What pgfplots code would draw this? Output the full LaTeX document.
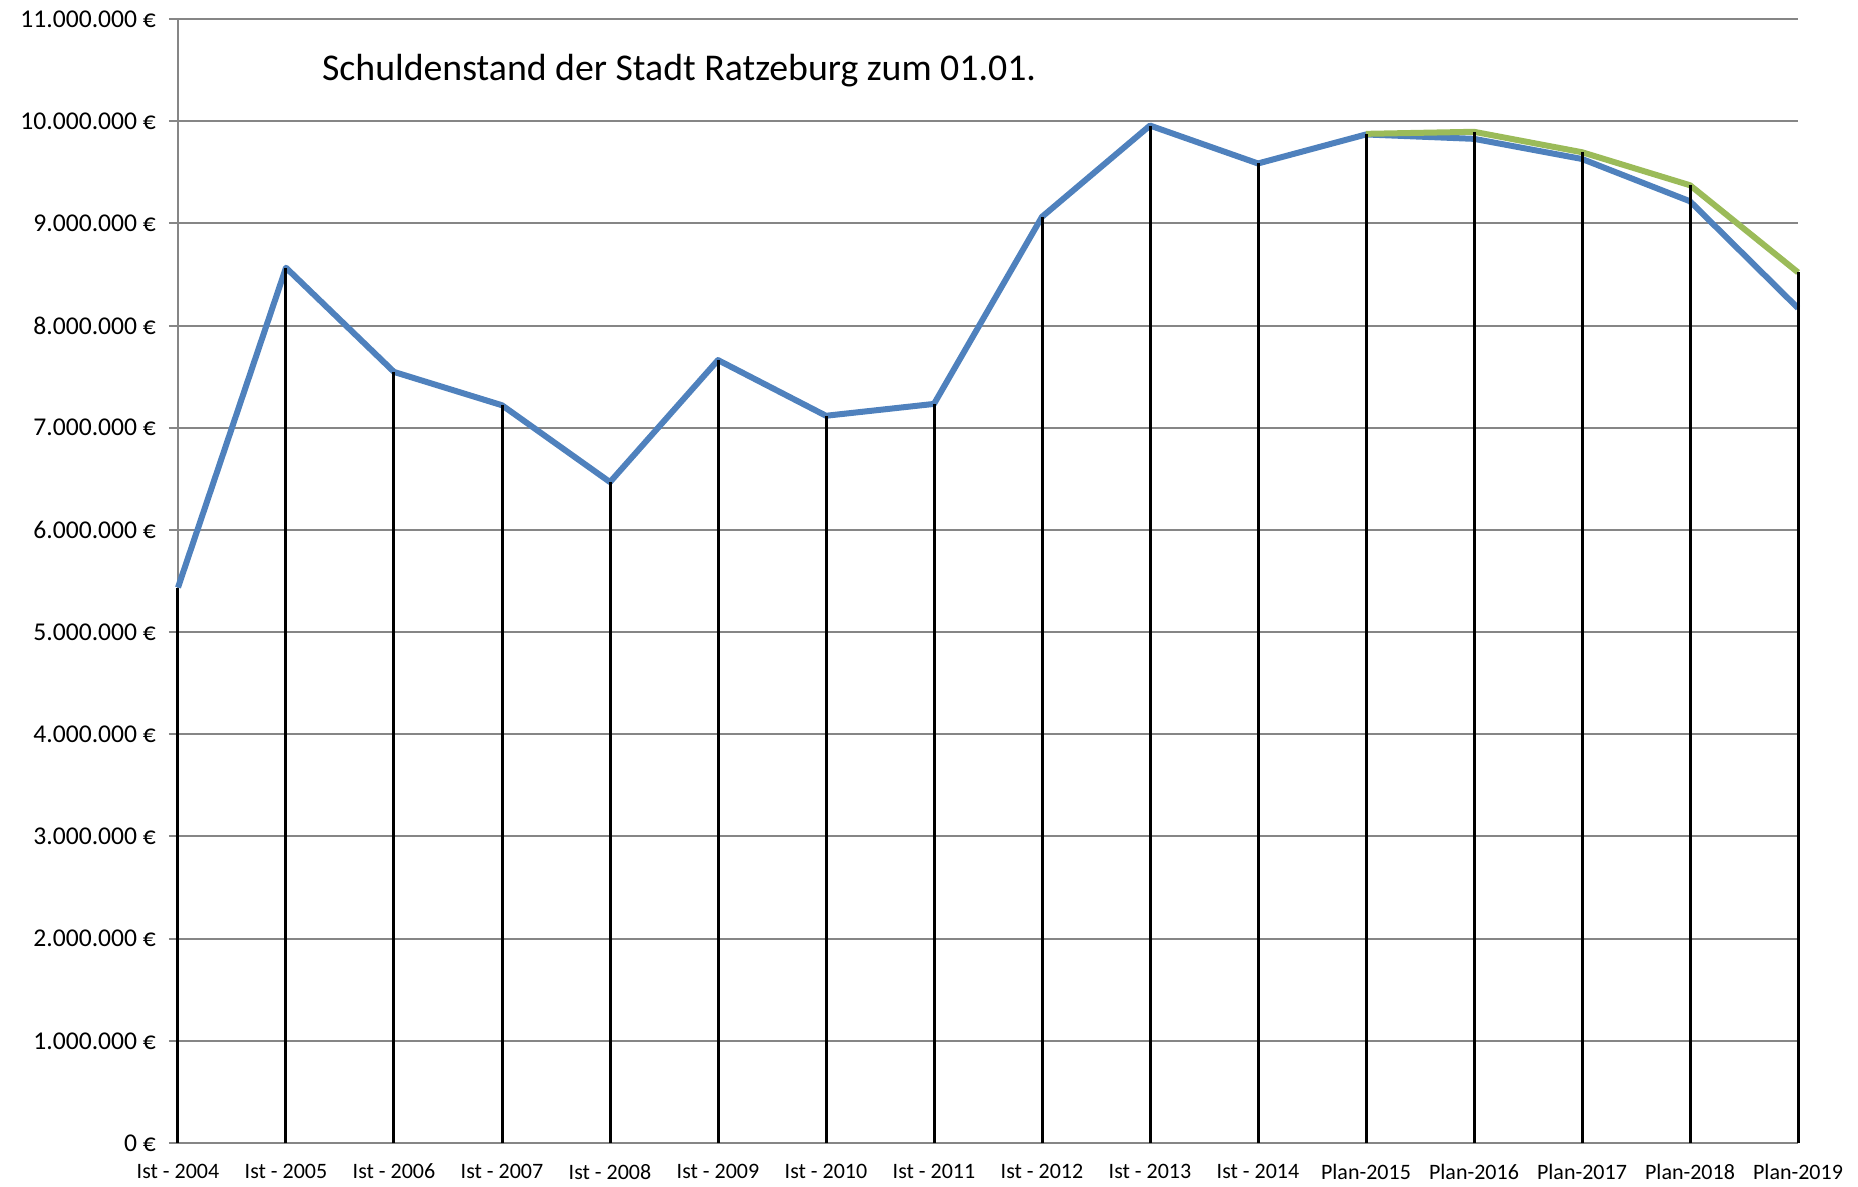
\documentclass[border=0pt]{standalone}
\usepackage{fontspec}
\setmainfont{Carlito}
\usepackage{pgfplots}
\pgfplotsset{compat=1.18}
\definecolor{exblue}{RGB}{79,129,189}
\definecolor{exgreen}{RGB}{155,187,89}
\definecolor{gridgray}{RGB}{134,134,134}
\begin{document}
\begin{tikzpicture}
\begin{axis}[
  scale only axis, width=810pt, height=562pt,
  xmin=0, xmax=15, ymin=0, ymax=11000000,
  clip=false,
  axis lines*=left,
  axis line style={gridgray, line width=1pt},
  xtick={0,1,2,3,4,5,6,7,8,9,10,11,12,13,14,15},
  xticklabels={Ist - 2004,Ist - 2005,Ist - 2006,Ist - 2007,Ist - 2008,Ist - 2009,Ist - 2010,Ist - 2011,Ist - 2012,Ist - 2013,Ist - 2014,Plan-2015,Plan-2016,Plan-2017,Plan-2018,Plan-2019},
  ytick={0,1000000,2000000,3000000,4000000,5000000,6000000,7000000,8000000,9000000,10000000,11000000},
  yticklabels={0 €,1.000.000 €,2.000.000 €,3.000.000 €,4.000.000 €,5.000.000 €,6.000.000 €,7.000.000 €,8.000.000 €,9.000.000 €,10.000.000 €,11.000.000 €},
  scaled y ticks=false,
  ymajorgrids,
  grid style={gridgray, line width=1pt},
  xtick style={draw=none},
  ytick style={gridgray, line width=1pt},
  tick align=outside,
  major tick length=4.5pt,
  yticklabel style={font=\fontsize{12.8}{15}\selectfont, xshift=-3pt},
  xticklabel style={font=\fontsize{11}{13}\selectfont, yshift=-2.5pt},
]
\addplot[exblue, line width=3pt, line join=round] coordinates {
(0,5436000) (1,8566000) (2,7546000) (3,7220000) (4,6468000) (5,7662000) (6,7117000) (7,7233000)
(8,9064000) (9,9957000) (10,9586000) (11,9870000) (12,9827000) (13,9630000) (14,9216000) (15,8170000)};
\addplot[exgreen, line width=3pt, line join=round] coordinates {
(11,9876000) (12,9896000) (13,9696000) (14,9373000) (15,8520000)};
\addplot[black, line width=1.5pt, ycomb] coordinates {
(0,5436000) (1,8566000) (2,7546000) (3,7220000) (4,6468000) (5,7662000) (6,7117000) (7,7233000)
(8,9064000) (9,9957000) (10,9586000) (11,9876000) (12,9896000) (13,9696000) (14,9373000) (15,8520000)};
\node[font=\fontsize{18.9}{23}\selectfont] at (axis cs:4.64,10490000) {Schuldenstand der Stadt Ratzeburg zum 01.01.};
\path (current axis.south west) ++(-89pt,-20.8pt) coordinate (bbsw);
\path (current axis.north east) ++(30pt,9.5pt) coordinate (bbne);
\path (bbsw) rectangle (bbne);
\end{axis}
\end{tikzpicture}
\end{document}
